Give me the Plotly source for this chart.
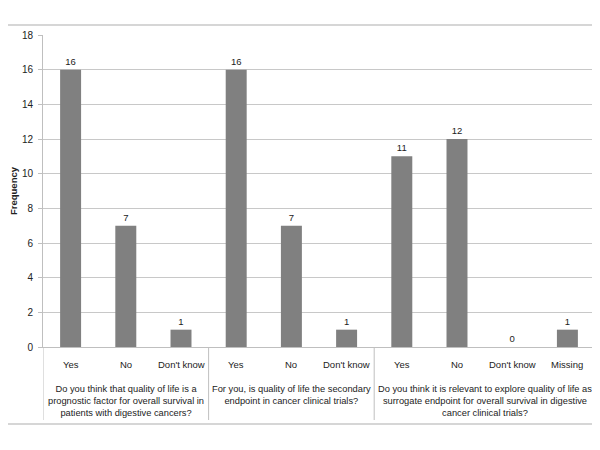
import plotly.graph_objects as go

# answers per question (x categories) and frequencies
answers = ["Yes", "No", "Don't know", "Yes", "No", "Don't know", "Yes", "No", "Don't know", "Missing"]
frequency = [16, 7, 1, 16, 7, 1, 11, 12, 0, 1]
questions = [
    "Do you think that quality of life is a<br>prognostic factor for overall survival in<br>patients with digestive cancers?",
    "For you, is quality of life the secondary<br>endpoint in cancer clinical trials?",
    "Do you think it is relevant to explore quality of life as<br>surrogate endpoint for overall survival in digestive<br>cancer clinical trials?",
]
group_sizes = [3, 3, 4]

FONT = "Liberation Sans, Arial"
GRID = "#c8c8c8"
xs = list(range(len(answers)))

fig = go.Figure(go.Bar(
    x=xs, y=frequency, width=0.38,
    marker=dict(color="#808080", line=dict(width=0)),
    text=[str(v) for v in frequency], textposition="outside",
    textfont=dict(size=9.5, color="#222222", family=FONT),
    cliponaxis=False,
))

# category labels under each bar
for x, a in zip(xs, answers):
    fig.add_annotation(x=x, y=-0.055, xref="x", yref="paper", text=a,
                       showarrow=False, yanchor="middle",
                       font=dict(size=9.5, color="#222222", family=FONT))

# question labels and group separators
start = 0
bounds = [-0.5]
for q, n in zip(questions, group_sizes):
    mid = start + (n - 1) / 2
    fig.add_annotation(x=mid, y=-0.112, xref="x", yref="paper", text=q,
                       showarrow=False, yanchor="top", align="center",
                       font=dict(size=9.3, color="#222222", family=FONT))
    start += n
    bounds.append(start - 0.5)
for b in bounds:
    fig.add_shape(type="line", xref="x", yref="paper", x0=b, x1=b, y0=0, y1=-0.234,
                  line=dict(color="#bfbfbf", width=1))

# outer rules above and below the chart
for yy in [1.032, -0.247]:
    fig.add_shape(type="line", xref="paper", yref="paper", x0=-0.07, x1=1.01, y0=yy, y1=yy,
                  line=dict(color="#c8c8c8", width=1.5))

fig.update_layout(
    width=592, height=442,
    margin=dict(l=35, r=5, t=27, b=103),
    plot_bgcolor="white", paper_bgcolor="white",
    showlegend=False,
    font=dict(family=FONT, size=9.5, color="#222222"),
    xaxis=dict(range=[-0.5, 9.5], showticklabels=False, showgrid=False, zeroline=False,
               showline=True, linecolor="#bfbfbf", ticks="", automargin=False),
    yaxis=dict(range=[0, 18], dtick=2, showgrid=True, gridcolor=GRID, zeroline=False,
               showline=True, linecolor="#bfbfbf", ticks="outside", ticklen=4,
               tickcolor="#bfbfbf", tickfont=dict(size=10), ticklabelstandoff=3,
               automargin=False,
               title=dict(text="<b>Frequency</b>", standoff=6, font=dict(size=9.5, family=FONT))),
)

fig.write_html("out.html")
